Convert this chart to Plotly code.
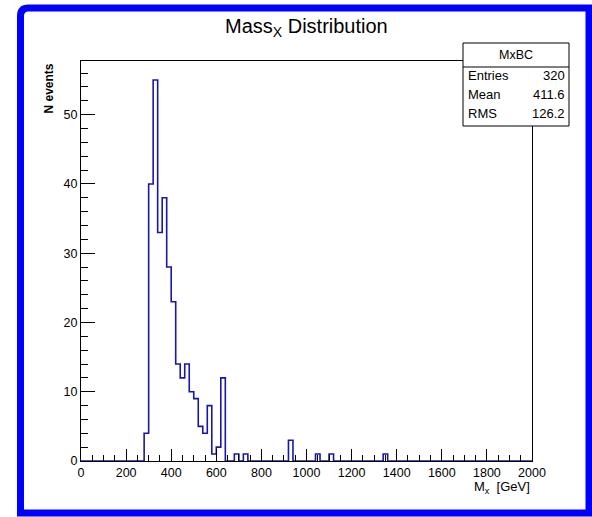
import numpy as np
import plotly.graph_objects as go

# ---- data ----
bin_width = 20
x_min, x_max = 0, 2000
# nonzero bins: lower edge -> count
bin_low = [280, 300, 320, 340, 360, 380, 400, 420, 440, 460, 480, 500, 520, 540,
           560, 580, 600, 620, 680, 720, 920, 1040, 1100, 1340]
bin_count = [4, 40, 55, 33, 38, 28, 23, 14, 12, 14, 10, 9, 5, 4,
             8, 1, 2, 12, 1, 1, 3, 1, 1, 1]
x_ticks = [0, 200, 400, 600, 800, 1000, 1200, 1400, 1600, 1800, 2000]
y_ticks = [0, 10, 20, 30, 40, 50]
stats_name = "MxBC"
stats_rows = [("Entries", "320"), ("Mean", "411.6"), ("RMS", "126.2")]

edges = np.arange(x_min, x_max + bin_width, bin_width)
counts = np.zeros(len(edges) - 1)
for lo, c in zip(bin_low, bin_count):
    counts[(lo - x_min) // bin_width] = c
step_y = np.append(counts, 0)

W, H = 592, 517
L, R, T, B = 81, 532, 61, 461
FONT = "Liberation Sans, Arial, sans-serif"


def px(xp):
    return (xp - L) / (R - L)


def py(yp):
    return (B - yp) / (B - T)


fig = go.Figure()
fig.add_trace(go.Scatter(
    x=edges, y=step_y, mode="lines", line=dict(shape="hv", color="#1818a8", width=1.6),
    hoverinfo="skip", showlegend=False))

ymax = max(bin_count) * 1.05

fig.update_layout(
    width=W, height=H,
    margin=dict(l=L, r=W - R, t=T, b=H - B),
    paper_bgcolor="white", plot_bgcolor="white",
    font=dict(family=FONT, size=12, color="black"),
    showlegend=False,
    xaxis=dict(range=[x_min, x_max], tickvals=x_ticks, ticks="inside", ticklen=12,
               tickcolor="black", tickwidth=1, showline=True, linecolor="black",
               linewidth=1, mirror=True, showgrid=False, zeroline=False,
               tickfont=dict(family=FONT, size=12.5),
               minor=dict(dtick=50, ticks="inside", ticklen=6, tickcolor="black", showgrid=False)),
    yaxis=dict(range=[0, ymax], tickvals=y_ticks, ticks="inside", ticklen=14,
               tickcolor="black", tickwidth=1, showline=True, linecolor="black",
               linewidth=1, mirror=True, showgrid=False, zeroline=False,
               tickfont=dict(family=FONT, size=12.5),
               minor=dict(dtick=2, ticks="inside", ticklen=7, tickcolor="black", showgrid=False)),
)

shapes = []
# blue rounded outer frame
left, right, top, bot = 20.5, 589, 8, 513
rad = 8
path = (f"M {px(left+rad)},{py(top)} L {px(right)},{py(top)} L {px(right)},{py(bot)} "
        f"L {px(left)},{py(bot)} L {px(left)},{py(top+rad)} "
        f"Q {px(left)},{py(top)} {px(left+rad)},{py(top)} Z")
shapes.append(dict(type="path", xref="paper", yref="paper", path=path,
                   line=dict(color="#0000ff", width=7), fillcolor="rgba(0,0,0,0)"))
# stats box
bx0, bx1, by0, by1, bdiv = 463, 569, 43, 126, 67
shapes.append(dict(type="rect", xref="paper", yref="paper", x0=px(bx0), x1=px(bx1),
                   y0=py(by1), y1=py(by0), line=dict(color="black", width=1), fillcolor="white"))
shapes.append(dict(type="line", xref="paper", yref="paper", x0=px(bx0), x1=px(bx1),
                   y0=py(bdiv), y1=py(bdiv), line=dict(color="black", width=1)))
fig.update_layout(shapes=shapes)

ann = []
ann.append(dict(text="Mass<sub>X</sub> Distribution", x=px(306), y=py(28), xref="paper", yref="paper",
                showarrow=False, xanchor="center", yanchor="middle",
                font=dict(family=FONT, size=20)))
ann.append(dict(text="<b>N events</b>", x=px(48.5), y=py(62), xref="paper", yref="paper",
                showarrow=False, textangle=-90, xanchor="center", yanchor="top",
                font=dict(family=FONT, size=12)))
ann.append(dict(text="M<sub>x</sub>  [GeV]", x=px(532), y=py(488), xref="paper", yref="paper",
                showarrow=False, xanchor="right", yanchor="middle",
                font=dict(family=FONT, size=13)))
ann.append(dict(text=stats_name, x=px((bx0 + bx1) / 2), y=py(55), xref="paper", yref="paper",
                showarrow=False, xanchor="center", yanchor="middle", font=dict(family=FONT, size=12.5)))
row_y = [76, 94, 113]
for (lab, val), yy in zip(stats_rows, row_y):
    ann.append(dict(text=lab, x=px(bx0 + 3), y=py(yy), xref="paper", yref="paper",
                    showarrow=False, xanchor="left", yanchor="middle", font=dict(family=FONT, size=13)))
    ann.append(dict(text=val, x=px(bx1 - 2), y=py(yy), xref="paper", yref="paper",
                    showarrow=False, xanchor="right", yanchor="middle", font=dict(family=FONT, size=13)))
fig.update_layout(annotations=ann)

fig.write_html("out.html")
